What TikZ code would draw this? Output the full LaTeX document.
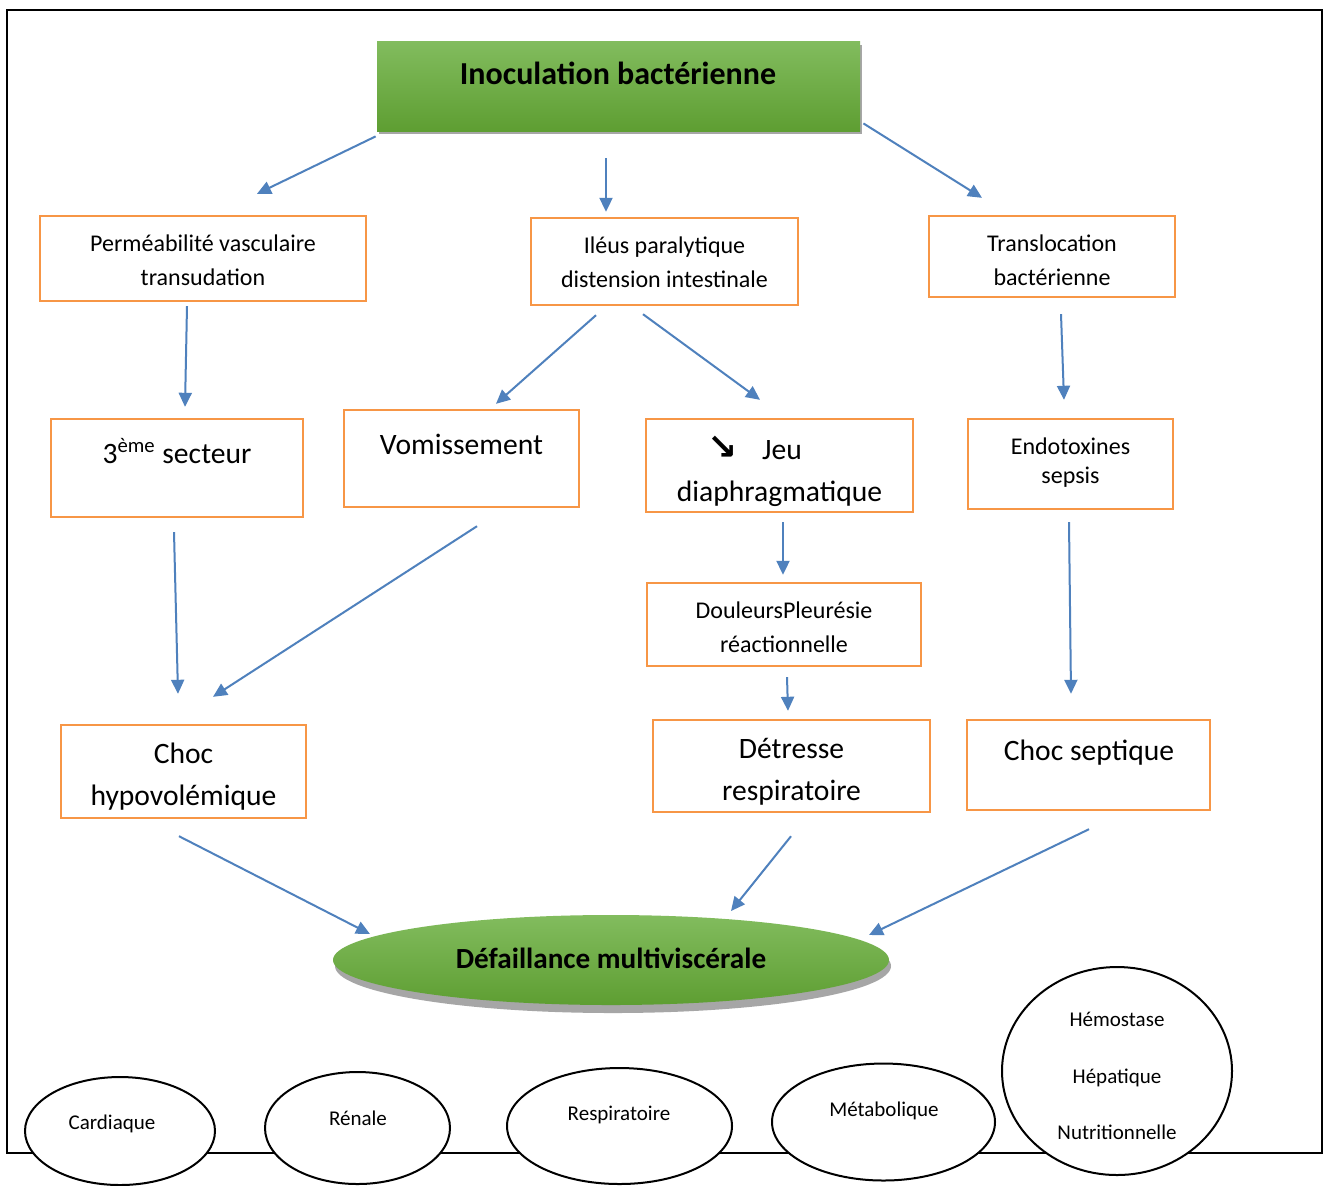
\documentclass[tikz,border=0pt]{standalone}
\usepackage{fontspec}
\setmainfont{Carlito}
\newfontfamily\symfont{DejaVu Sans}
\usetikzlibrary{shapes.geometric,arrows.meta}
\definecolor{obord}{HTML}{F79646}
\definecolor{ablue}{HTML}{4F81BD}
\definecolor{gtop}{HTML}{82BC5E}
\definecolor{gbot}{HTML}{5E9E32}
\definecolor{shad}{HTML}{A6A6A6}
\tikzset{
 obox/.style={draw=obord, line width=1.2pt, inner sep=0pt, rectangle},
 lbl/.style={inner sep=0pt, align=center},
 sfont/.style={lbl, font=\fontsize{12}{17}\selectfont},
 bfont/.style={lbl, font=\fontsize{14.8}{21}\selectfont},
 arr/.style={draw=ablue, line width=1pt, -{Triangle[length=7pt,width=6.5pt]}},
 oval/.style={ellipse, draw=black, line width=1pt, fill=white, inner sep=0pt},
 ofont/.style={lbl, font=\fontsize{10.5}{28.2}\selectfont},
}
\begin{document}
\begin{tikzpicture}[x=0.5pt,y=-0.5pt]
\useasboundingbox (0,0) rectangle (1326,1185);
\fill[white] (0,0) rectangle (1326,1185);
% frame
\draw[line width=0.6pt] (7,10) rectangle (1322,1153);

% top box
\fill[shad] (379,45) rectangle (862,134);
\node[rectangle, inner sep=0pt, top color=gtop, bottom color=gbot, minimum width=241.5pt, minimum height=45pt] (top) at (618.5,86) {};
\node[lbl, font=\fontsize{16}{19}\selectfont\bfseries] (topt) at (618,73) {Inoculation bactérienne};

% row 1
\node[obox, minimum width=163pt, minimum height=42.5pt] (perm) at (203,258.5) {};
\node[sfont] (permt) at (203,260.5) {Perméabilité vasculaire\\transudation};
\node[obox, minimum width=133.5pt, minimum height=43.5pt] (ileus) at (664.5,261.5) {};
\node[sfont] (ileust) at (664.5,262) {Iléus paralytique\\distension intestinale};
\node[obox, minimum width=123pt, minimum height=40.5pt] (transl) at (1052,256.5) {};
\node[sfont] (translt) at (1052,260.5) {Translocation\\bactérienne};

% row 2
\node[obox, minimum width=126pt, minimum height=49pt] (sect) at (177,468) {};
\node[bfont] (sectt) at (177,451) {3\textsuperscript{ème} secteur};
\node[obox, minimum width=117.5pt, minimum height=48.5pt] (vomi) at (461.5,458.5) {};
\node[bfont] (vomit) at (461.5,444) {Vomissement};
\node[obox, minimum width=133.5pt, minimum height=46.5pt] (jeu) at (779.5,465.5) {};
\node[bfont] (jeut) at (779.5,471.5) {{\symfont\bfseries\fontsize{18}{18}\selectfont ↘}\hspace{12.5pt}Jeu\hspace*{25pt}\\diaphragmatique};
\node[obox, minimum width=102.5pt, minimum height=45pt] (endo) at (1070.5,464) {};
\node[lbl, font=\fontsize{12}{14.5}\selectfont] (endot) at (1070.5,462.5) {Endotoxines\\sepsis};

% row 3
\node[obox, minimum width=137pt, minimum height=41.5pt] (doul) at (784,624.5) {};
\node[sfont] (doult) at (784,627) {DouleursPleurésie\\réactionnelle};

% row 4
\node[obox, minimum width=122.5pt, minimum height=46.5pt] (hypo) at (183.5,771.5) {};
\node[bfont] (hypot) at (183.5,777) {Choc\\hypovolémique};
\node[obox, minimum width=138.5pt, minimum height=46pt] (detr) at (791.5,766) {};
\node[bfont] (detrt) at (791.5,772) {Détresse\\respiratoire};
\node[obox, minimum width=121.5pt, minimum height=45pt] (sept) at (1088.5,765) {};
\node[bfont] (septt) at (1089,753) {Choc septique};

% big ellipse
\node[ellipse, fill=shad, inner sep=0pt, minimum width=278pt, minimum height=47pt] (defs) at (613,966) {};
\node[ellipse, inner sep=0pt, top color=gtop, bottom color=gbot, minimum width=278pt, minimum height=45pt] (def) at (611,960) {};
\node[lbl, font=\fontsize{14.6}{17}\selectfont\bfseries] (deft) at (611,958) {Défaillance multiviscérale};

% arrows
\draw[arr] ([shift={(-1,5)}]top.south west) -- ([shift={(54,-21)}]perm.north);
\draw[arr] ([shift={(-12.5,27)}]top.south) -- ([shift={(-58.5,-5)}]ileus.north);
\draw[arr] ([shift={(3,-8)}]top.south east) -- ([shift={(-70,-17)}]transl.north);
\draw[arr] ([shift={(-16,4)}]perm.south) -- ([shift={(8,-11)}]sect.north);
\draw[arr] ([shift={(-68.5,9)}]ileus.south) -- ([shift={(34.5,-5)}]vomi.north);
\draw[arr] ([shift={(-21.5,8)}]ileus.south) -- ([shift={(-19.5,-18)}]jeu.north);
\draw[arr] ([shift={(9,16)}]transl.south) -- ([shift={(-6.5,-18)}]endo.north);
\draw[arr] ([shift={(-3,14)}]sect.south) -- ([shift={(-5.5,-30)}]hypo.north);
\draw[arr] ([shift={(15.5,18)}]vomi.south) -- ([shift={(29.5,-27)}]hypo.north);
\draw[arr] ([shift={(3.5,9)}]jeu.south) -- ([shift={(-1,-7)}]doul.north);
\draw[arr] ([shift={(3,10)}]doul.south) -- ([shift={(-3.5,-8)}]detr.north);
\draw[arr] ([shift={(-1.5,12)}]endo.south) -- ([shift={(-17.5,-25)}]sept.north);
\draw[arr] ([shift={(-4.5,17)}]hypo.south) -- ([shift={(-241,-26)}]def.center);
\draw[arr] ([shift={(-0.5,23)}]detr.south) -- ([shift={(120,-49)}]def.center);
\draw[arr] ([shift={(0.5,18)}]sept.south) -- ([shift={(258,-25)}]def.center);

% organ ellipses
\node[oval, minimum width=95pt, minimum height=54pt] (card) at (120,1131) {};
\node[ofont] (cardt) at (112,1124) {Cardiaque};
\node[oval, minimum width=92.5pt, minimum height=56pt] (ren) at (357.5,1128) {};
\node[ofont] (rent) at (358,1118) {Rénale};
\node[oval, minimum width=112.5pt, minimum height=58pt] (resp) at (619.5,1126) {};
\node[ofont] (respt) at (619,1115) {Respiratoire};
\node[oval, minimum width=111.5pt, minimum height=58.5pt] (meta) at (883.5,1122) {};
\node[ofont] (metat) at (884,1111) {Métabolique};
\node[oval, minimum width=115pt, minimum height=104pt] (hem) at (1117,1071) {};
\node[ofont] (hemt) at (1117,1076) {Hémostase\\Hépatique\\Nutritionnelle};
\end{tikzpicture}
\end{document}
